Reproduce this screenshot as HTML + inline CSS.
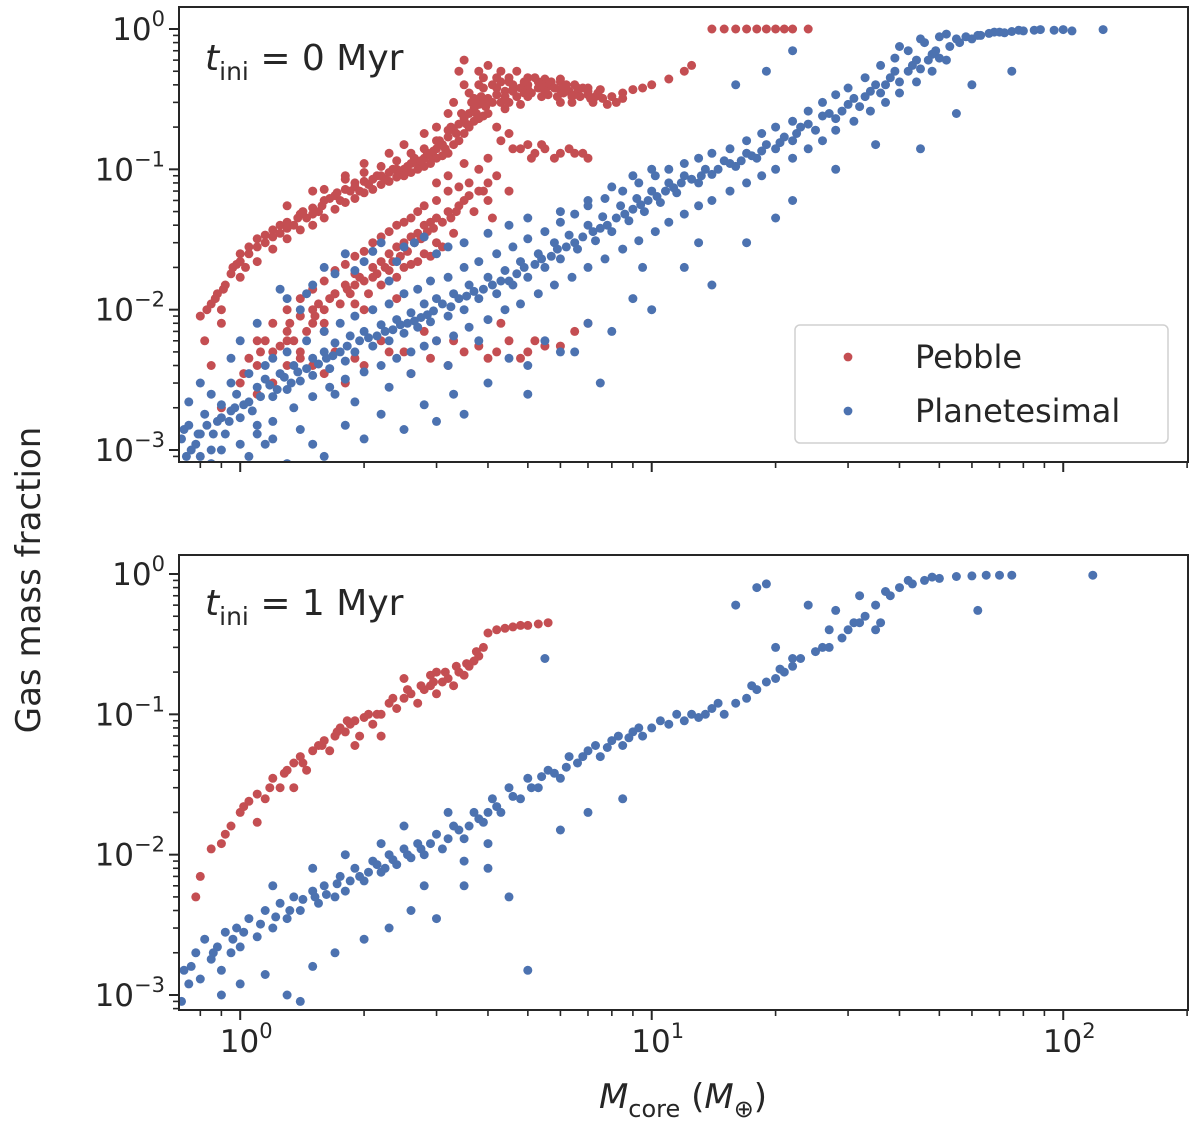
<!DOCTYPE html>
<html><head><meta charset="utf-8"><style>
html,body{margin:0;padding:0;background:#fff;}
svg text{font-family:"DejaVu Sans","Liberation Sans",sans-serif;fill:#262626;}
</style></head><body>
<svg id="fig" width="1200" height="1130" viewBox="0 0 1200 1130" xmlns="http://www.w3.org/2000/svg"></svg>
<script>
// ---- data (x = core mass in Earth masses, y = gas mass fraction) ----
const topBlueX=[0.72,0.74,0.75,0.78,0.8,0.82,0.85,0.88,0.9,0.92,0.95,0.98,1.0,1.05,1.1,1.1,1.15,1.2,1.25,1.3,1.35,1.4,1.5,1.5,1.6,1.65,1.7,1.8,1.85,1.9,2.0,2.1,2.2,2.3,2.4,2.5,2.6,2.7,2.8,2.9,3.0,3.2,3.3,3.5,3.6,3.8,4.0,4.2,4.4,4.6,4.8,5.0,5.3,5.5,5.8,6.0,6.3,6.6,7.0,7.3,7.6,8.0,8.4,8.8,9.2,9.6,10,10.5,11,11.5,12,13,13.5,14,15,16,17,18,19,20,21,22,23,25,26,28,30,32,34,36,38,40,43,45,48,50,53,56,60,63,66,70,75,80,85,95,105,125,52,45,40,
1.3,1.5,1.7,1.8,2.0,2.2,2.5,2.8,3.0,1.1,1.4,2.3,3.5,4.0,4.5,5,6,7,8,9,10,
0.85,1.05,1.2,1.3,1.5,1.6,1.8,2.0,2.2,2.5,2.8,3.0,3.3,3.5,4.0,4.5,5,5.5,6,7,8,9,10,12,14,17,20,22,28,35,45,55,60,75,13,6.5,7.5,9.5,1.2,1.7,2.3,3.8,5,19,22,16];
const topBlueY=[0.0012,0.0009,0.0015,0.0011,0.0013,0.0018,0.0010,0.0016,0.0021,0.0013,0.0019,0.0025,0.0017,0.0022,0.0028,0.0015,0.0032,0.0024,0.0035,0.0027,0.004,0.0031,0.0045,0.0034,0.005,0.0038,0.0058,0.0043,0.0065,0.005,0.007,0.0055,0.0078,0.006,0.0085,0.0068,0.0095,0.0075,0.011,0.0082,0.012,0.009,0.013,0.010,0.015,0.012,0.017,0.013,0.019,0.015,0.022,0.017,0.025,0.02,0.03,0.023,0.034,0.027,0.04,0.031,0.046,0.036,0.055,0.043,0.062,0.05,0.07,0.058,0.08,0.068,0.09,0.08,0.1,0.092,0.115,0.105,0.13,0.12,0.15,0.14,0.17,0.16,0.2,0.19,0.24,0.23,0.29,0.28,0.36,0.35,0.45,0.42,0.55,0.52,0.66,0.62,0.75,0.8,0.85,0.9,0.93,0.95,0.96,0.97,0.98,0.98,0.97,0.99,0.92,0.85,0.75,
0.012,0.015,0.018,0.025,0.022,0.03,0.028,0.033,0.025,0.008,0.01,0.016,0.03,0.035,0.04,0.045,0.05,0.06,0.075,0.09,0.1,
0.0008,0.0009,0.0012,0.0008,0.0011,0.0009,0.0015,0.0012,0.0018,0.0014,0.0021,0.0016,0.0025,0.0018,0.003,0.0045,0.004,0.006,0.005,0.008,0.007,0.012,0.01,0.02,0.015,0.03,0.045,0.06,0.1,0.15,0.14,0.25,0.4,0.5,0.03,0.005,0.003,0.02,0.0045,0.0025,0.0028,0.006,0.0025,0.5,0.7,0.4];
const topBlueMore=[[0.73,0.0014],[0.76,0.001],[0.79,0.0013],[0.83,0.0015],[0.86,0.0013],[0.9,0.0017],[0.94,0.0016],[0.97,0.002],[1.02,0.0021],[1.07,0.0019],[1.12,0.0024],[1.18,0.0029],[1.23,0.0027],[1.28,0.0033],[1.33,0.003],[1.38,0.0036],[1.45,0.0038],[1.55,0.0041],[1.62,0.0045],[1.68,0.0047],[1.75,0.005],[1.82,0.0055],[1.95,0.006],[2.05,0.0063],[2.15,0.0065],[2.25,0.007],[2.35,0.0072],[2.45,0.0078],[2.55,0.008],[2.65,0.0083],[2.75,0.0088],[2.85,0.0092],[2.95,0.0098],[3.1,0.011],[3.25,0.0105],[3.4,0.012],[3.55,0.0125],[3.7,0.0135],[3.9,0.014],[4.1,0.015],[4.3,0.016],[4.5,0.016],[4.7,0.018],[4.9,0.02],[5.2,0.021],[5.4,0.023],[5.7,0.024],[5.9,0.027],[6.2,0.028],[6.5,0.03],[6.8,0.033],[7.2,0.036],[7.5,0.038],[7.8,0.04],[8.2,0.045],[8.6,0.048],[9.0,0.052],[9.4,0.056],[9.8,0.06],[10.3,0.064],[10.8,0.07],[11.3,0.074],[11.8,0.08],[12.5,0.085],[13.2,0.09],[14.5,0.1],[15.5,0.11],[16.5,0.115],[17.5,0.125],[18.5,0.135],[20.5,0.155],[22.5,0.18],[24,0.21],[27,0.25],[29,0.26],[31,0.32],[33,0.33],[35,0.4],[37,0.4],[39,0.5],[42,0.5],[44,0.6],[47,0.6],[49,0.7],[55,0.85],[58,0.88],[62,0.9],[68,0.95],[72,0.94],[78,0.98],[88,0.99],[100,0.99],
[1.25,0.014],[1.45,0.013],[1.6,0.02],[1.9,0.019],[2.1,0.026],[2.4,0.022],[2.65,0.03],[3.2,0.028],[1.0,0.006],[0.8,0.003],[0.95,0.0045],[1.15,0.0011],[1.4,0.0014],[1.9,0.0022],[2.6,0.0035],[3.2,0.004]];
const topBlueEdges=[[0.75,0.0022],[0.85,0.0025],[0.95,0.003],[1.05,0.0035],[1.15,0.004],[1.3,0.005],[1.45,0.006],[1.6,0.007],[1.75,0.008],[1.9,0.009],[2.1,0.01],[2.3,0.011],[2.5,0.013],[2.7,0.014],[2.9,0.016],[3.2,0.017],[3.5,0.02],[3.8,0.022],[4.2,0.025],[4.6,0.028],[5.0,0.032],[5.5,0.036],[6.0,0.042],[6.5,0.048],[7.0,0.055],[7.7,0.062],[8.5,0.07],[9.3,0.08],[10.2,0.09],[11,0.1],[12,0.11],[13,0.12],[14,0.13],[15.5,0.14],[17,0.16],[18.5,0.18],[20,0.2],[22,0.22],[24,0.26],[26,0.3],[28,0.34],[30,0.38],[33,0.45],[36,0.55],[39,0.62],[42,0.7],[46,0.8],[50,0.88],
[0.8,0.0009],[0.9,0.001],[1.0,0.0011],[1.1,0.0013],[1.2,0.0016],[1.35,0.002],[1.5,0.0024],[1.65,0.0028],[1.8,0.0032],[2.0,0.0036],[2.2,0.004],[2.4,0.0045],[2.6,0.005],[2.8,0.0055],[3.0,0.006],[3.3,0.0065],[3.6,0.0075],[4.0,0.0085],[4.4,0.01],[4.8,0.011],[5.3,0.013],[5.8,0.015],[6.4,0.017],[7.0,0.02],[7.7,0.023],[8.5,0.027],[9.3,0.031],[10.2,0.036],[11,0.042],[12,0.048],[13,0.055],[14,0.06],[15.5,0.07],[17,0.08],[18.5,0.09],[20,0.1],[22,0.12],[24,0.14],[26,0.16],[28,0.19],[31,0.22],[34,0.26],[37,0.3],[40,0.35],[44,0.42],[48,0.5],[52,0.6]];
const topRedX=[0.8,0.82,0.85,0.88,0.9,0.92,0.95,0.98,1.0,1.03,1.05,1.1,1.15,1.2,1.25,1.3,1.35,1.4,1.45,1.5,1.55,1.6,1.7,1.75,1.8,1.9,1.95,2.0,2.1,2.2,2.3,2.4,2.5,2.6,2.7,2.8,2.9,3.0,3.1,3.2,3.3,3.4,3.5,3.6,3.7,3.8,3.9,4.0,4.2,4.4,4.6,4.8,5.0,5.3,5.6,6.0,6.3,6.6,7.0,7.3,7.6,8.0,8.5,9.0,10,11,12,12.5,14,15,16,17,18,19,20,21,22,24,
3.5,3.8,4.0,4.2,4.5,5,5.5,6,6.5,7,4.5,5,6,3.4,3.5,3.3,3.0,2.8,2.5,2.3,2.0,1.8,1.5,1.3,
4.2,4.5,5,5.5,6,6.5,7,4.8,5.2,3.5,3.8,4.2,3.2,3.0,4.0,3.7,4.5,
1.0,1.05,1.1,1.15,1.2,1.3,1.35,1.4,1.5,1.55,1.6,1.7,1.8,1.85,1.9,2.0,2.1,2.2,2.3,2.4,2.5,2.6,2.7,2.8,2.9,3.0,3.2,3.4,2.2,2.5,2.8,3.0,3.3,
1.5,1.7,2.0,2.3,2.6,3.0,3.5,4.0,4.5,5,5.5,6.5,7,3.2,2.8,1.2,1.8,4.3,0.85,0.9];
const topRedY=[0.009,0.006,0.011,0.013,0.008,0.015,0.018,0.021,0.025,0.02,0.028,0.032,0.03,0.037,0.035,0.042,0.04,0.048,0.045,0.053,0.05,0.06,0.065,0.06,0.072,0.075,0.07,0.082,0.085,0.09,0.095,0.1,0.1,0.11,0.11,0.12,0.125,0.14,0.15,0.17,0.19,0.21,0.23,0.25,0.27,0.29,0.3,0.32,0.34,0.36,0.37,0.38,0.4,0.38,0.39,0.37,0.36,0.35,0.34,0.33,0.32,0.33,0.35,0.37,0.4,0.44,0.5,0.55,1,1,1,1,1,1,1,1,1,1,
0.4,0.5,0.55,0.45,0.42,0.45,0.44,0.42,0.4,0.38,0.3,0.33,0.3,0.5,0.6,0.3,0.2,0.18,0.15,0.13,0.11,0.09,0.07,0.055,
0.2,0.18,0.15,0.14,0.13,0.13,0.12,0.14,0.13,0.11,0.1,0.09,0.09,0.08,0.06,0.05,0.07,
0.003,0.0045,0.004,0.006,0.005,0.007,0.006,0.009,0.008,0.011,0.01,0.013,0.015,0.013,0.018,0.016,0.02,0.022,0.025,0.028,0.03,0.033,0.035,0.04,0.042,0.045,0.05,0.055,0.015,0.02,0.025,0.03,0.035,
0.004,0.005,0.004,0.005,0.0035,0.006,0.005,0.0045,0.006,0.005,0.0055,0.007,0.008,0.004,0.007,0.003,0.003,0.008,0.004,0.002];
const topRedMore=[[0.83,0.01],[0.87,0.012],[0.91,0.014],[0.96,0.02],[1.0,0.022],[1.05,0.025],[1.1,0.028],[1.15,0.034],[1.2,0.033],[1.25,0.04],[1.3,0.038],[1.38,0.045],[1.42,0.05],[1.5,0.048],[1.58,0.055],[1.65,0.062],[1.72,0.068],[1.85,0.07],[1.9,0.08],[2.05,0.078],[2.15,0.09],[2.25,0.085],[2.35,0.1],[2.45,0.095],[2.55,0.105],[2.65,0.12],[2.75,0.115],[2.85,0.13],[2.95,0.135],[3.05,0.16],[3.15,0.14],[3.25,0.2],[3.35,0.18],[3.45,0.25],[3.55,0.21],[3.65,0.3],[3.75,0.25],[3.85,0.33],[3.95,0.28],
[4.1,0.4],[4.3,0.3],[4.5,0.45],[4.7,0.33],[4.9,0.42],[5.1,0.35],[5.2,0.45],[5.4,0.33],[5.7,0.42],[5.9,0.33],[6.2,0.4],[6.4,0.3],[6.8,0.38],[7.2,0.3],[7.5,0.37],[7.8,0.29],[8.2,0.3],[3.9,0.45],[4.3,0.5],[4.7,0.5],[5.5,0.36],[6.1,0.35],[6.7,0.33],[7.4,0.35],[4.0,0.25],[4.4,0.27],[4.8,0.29],[3.6,0.35],[3.2,0.25],
[4.3,0.16],[4.6,0.14],[5.1,0.12],[5.8,0.12],[6.3,0.14],[6.8,0.13],[5.4,0.15],[4.0,0.12],[3.6,0.08],[3.9,0.07],[4.1,0.045],
[1.02,0.0035],[1.12,0.005],[1.25,0.0055],[1.32,0.008],[1.45,0.007],[1.52,0.009],[1.65,0.012],[1.75,0.011],[1.82,0.014],[1.95,0.017],[2.05,0.013],[2.15,0.018],[2.25,0.02],[2.35,0.022],[2.45,0.024],[2.55,0.026],[2.65,0.03],[2.75,0.032],[2.85,0.036],[2.95,0.038],[3.1,0.042],[3.25,0.045],[3.35,0.05],[3.5,0.06],[3.6,0.065],[3.8,0.07],[4.0,0.08],[1.6,0.007],[1.9,0.011],[2.4,0.017],[2.7,0.022],[3.1,0.028],[1.4,0.005],[1.3,0.004],
[1.6,0.0035],[1.9,0.0045],[2.2,0.006],[2.5,0.005],[2.9,0.0045],[3.3,0.006],[3.8,0.0055],[4.2,0.005],[4.8,0.0045],[5.2,0.006],[6,0.0055],[1.4,0.0045],[1.1,0.0025]];
const topRedDense=[[0.9,0.01],[1.0,0.017],[1.1,0.022],[1.2,0.027],[1.3,0.032],[1.4,0.037],[1.5,0.04],[1.6,0.045],[1.7,0.052],[1.8,0.058],[1.9,0.062],[2.0,0.068],[2.1,0.072],[2.2,0.078],[2.3,0.082],[2.4,0.088],[2.5,0.09],[2.6,0.095],[2.7,0.1],[2.8,0.105],[2.9,0.11],[3.0,0.12],[3.1,0.125],[3.2,0.13],[3.3,0.15],[3.4,0.16],[3.5,0.18],[3.6,0.2],[3.7,0.22],[3.8,0.23],[3.9,0.24],[1.6,0.072],[1.8,0.085],[2.0,0.095],[2.2,0.105],[2.4,0.115],[2.6,0.13],[2.8,0.14],[3.0,0.16],[3.2,0.19],
[4.2,0.38],[4.6,0.4],[5.0,0.37],[5.4,0.4],[5.8,0.38],[6.2,0.36],[6.6,0.38],[7.0,0.36],[4.4,0.33],[4.9,0.35],[5.6,0.34],[6.4,0.33],[7.1,0.32],[4.1,0.3],[4.6,0.36],[5.3,0.42],[6.0,0.44],[8.5,0.32],[9.5,0.38],[3.9,0.38],[4.3,0.42],[3.7,0.32],[3.8,0.4],
[1.1,0.006],[1.2,0.008],[1.3,0.01],[1.4,0.012],[1.5,0.014],[1.6,0.016],[1.7,0.019],[1.8,0.021],[1.9,0.024],[2.0,0.026],[2.1,0.03],[2.2,0.033],[2.3,0.036],[2.4,0.04],[2.5,0.042],[2.6,0.045],[2.7,0.05],[2.8,0.055],[3.0,0.06],[3.2,0.07],[3.4,0.075],[1.5,0.01],[1.7,0.013],[1.9,0.015],[2.1,0.017],[2.3,0.019],[2.6,0.021],[2.9,0.024],[1.3,0.006],[1.6,0.008],[2.0,0.01],[2.4,0.012]];
const botRedX=[0.78,0.8,0.85,0.9,0.95,1.0,1.05,1.1,1.15,1.2,1.25,1.3,1.35,1.4,1.45,1.5,1.55,1.6,1.65,1.7,1.75,1.8,1.85,1.9,1.95,2.0,2.05,2.1,2.2,2.3,2.4,2.5,2.6,2.7,2.8,2.9,3.0,3.1,3.2,3.3,3.4,3.5,3.6,3.7,3.8,3.9,4.0,4.2,4.4,4.6,4.8,5.0,5.3,5.6,2.5,2.9,1.9,2.2,3.0,1.35,1.1];
const botRedY=[0.005,0.007,0.011,0.012,0.016,0.02,0.024,0.027,0.025,0.035,0.03,0.04,0.045,0.05,0.04,0.055,0.06,0.065,0.055,0.07,0.08,0.075,0.085,0.09,0.07,0.095,0.1,0.085,0.1,0.12,0.11,0.13,0.14,0.12,0.15,0.16,0.14,0.17,0.18,0.16,0.2,0.19,0.22,0.24,0.26,0.3,0.38,0.4,0.41,0.42,0.43,0.43,0.44,0.45,0.18,0.19,0.06,0.07,0.2,0.03,0.017];
const botRedMore=[[0.92,0.014],[1.02,0.022],[1.18,0.03],[1.28,0.038],[1.42,0.045],[1.58,0.06],[1.72,0.075],[1.82,0.09],[2.15,0.1],[2.35,0.13],[2.55,0.15],[2.75,0.16],[2.95,0.17],[3.15,0.2],[3.35,0.22],[3.55,0.23],[3.75,0.28]];
const botBlueX=[0.72,0.73,0.75,0.78,0.8,0.82,0.85,0.88,0.9,0.92,0.95,0.98,1.0,1.05,1.1,1.15,1.2,1.25,1.3,1.35,1.4,1.5,1.55,1.6,1.7,1.75,1.8,1.9,2.0,2.1,2.2,2.3,2.4,2.5,2.6,2.7,2.8,3.0,3.1,3.3,3.5,3.7,3.9,4.1,4.3,4.5,4.8,5.0,5.3,5.6,6.0,6.3,6.6,7.0,7.5,8.0,8.5,9.0,9.5,10,11,12,13,14,15,16,17,18,19,20,21,22,23,25,27,29,31,33,35,38,40,43,46,50,55,60,65,70,75,118,18,19,16,24,28,35,36,62,5.5,8.5,
1.3,1.4,1.5,1.7,2.0,2.3,2.6,3.0,3.5,4.0,4.5,5,0.9,1.0,1.15,1.8,2.2,2.5,3.2,1.5,1.2,6,7,4,3.5,2.8];
const botBlueY=[0.0009,0.0015,0.0012,0.002,0.0013,0.0025,0.0018,0.0022,0.0015,0.0028,0.002,0.003,0.0022,0.0035,0.0026,0.004,0.003,0.0045,0.0035,0.005,0.004,0.0055,0.0045,0.006,0.005,0.007,0.0055,0.008,0.0065,0.009,0.0075,0.01,0.0085,0.011,0.0095,0.012,0.01,0.014,0.011,0.016,0.013,0.02,0.017,0.025,0.02,0.03,0.025,0.035,0.03,0.04,0.035,0.05,0.045,0.055,0.05,0.065,0.06,0.075,0.07,0.08,0.085,0.09,0.095,0.11,0.1,0.12,0.13,0.15,0.17,0.18,0.2,0.22,0.25,0.28,0.3,0.35,0.45,0.5,0.6,0.7,0.8,0.85,0.9,0.93,0.96,0.97,0.98,0.98,0.98,0.98,0.8,0.85,0.6,0.6,0.55,0.4,0.45,0.55,0.25,0.025,
0.001,0.0009,0.0016,0.002,0.0025,0.003,0.004,0.0035,0.006,0.008,0.005,0.0015,0.001,0.0012,0.0014,0.01,0.012,0.016,0.02,0.008,0.006,0.015,0.02,0.012,0.009,0.006];
const botBlueMore=[[0.76,0.0016],[0.86,0.002],[0.96,0.0025],[1.02,0.0028],[1.12,0.0032],[1.22,0.0036],[1.32,0.004],[1.42,0.0048],[1.52,0.005],[1.62,0.0052],[1.72,0.0062],[1.85,0.0065],[1.95,0.007],[2.05,0.0075],[2.15,0.0085],[2.25,0.008],[2.35,0.0092],[2.55,0.01],[2.75,0.011],[2.9,0.012],[3.2,0.013],[3.4,0.015],[3.6,0.016],[3.8,0.018],[4.0,0.02],[4.2,0.022],[4.6,0.026],[5.1,0.03],[5.4,0.036],[5.8,0.038],[6.2,0.042],[6.8,0.05],[7.3,0.06],[7.8,0.058],[8.3,0.07],[8.8,0.068],[9.3,0.08],[10.5,0.09],[11.5,0.1],[12.5,0.1],[13.5,0.1],[14.5,0.12],[17.5,0.16],[20.5,0.21],[22,0.25],[26,0.3],[30,0.4],[32,0.45],[37,0.75],[42,0.9],[48,0.95],[20,0.3],[27,0.4],[32,0.7]];
const yTickExps=[0,-1,-2,-3];
const xTickExps=[0,1,2];

// ---- geometry ----
const NS="http://www.w3.org/2000/svg";
const svg=document.getElementById('fig');
const X0=179,X1=1188,xLo=Math.log10(0.71),xHi=Math.log10(201);
function xs(v){return X0+(Math.log10(v)-xLo)/(xHi-xLo)*(X1-X0);}
function mk(tag,attrs,parent){const e=document.createElementNS(NS,tag);for(const k in attrs)e.setAttribute(k,attrs[k]);(parent||svg).appendChild(e);return e;}
function merge(xa,ya,...lists){let x=xa.slice(),y=ya.slice();for(const l of lists){x=x.concat(l.map(p=>p[0]));y=y.concat(l.map(p=>p[1]));}return {x,y};}
const RED="#c44e52",BLUE="#4c72b0",AX="#262626";

function panel(name,top,bottom,y0px,y3px,series,label){
  const g=mk('g',{});
  
  
  const per=(y3px-y0px)/3;
  const ys=v=>y0px-Math.log10(v)*per;
  const defs=mk('clipPath',{id:'clip-'+name},g);
  mk('rect',{x:X0,y:top,width:X1-X0,height:bottom-top},defs);
  const pts=mk('g',{'clip-path':'url(#clip-'+name+')'},g);
  for(const s of series){
    const sg=mk('g',{},pts);
    
    
    for(let i=0;i<s.x.length;i++){
      const c=mk('circle',{cx:xs(s.x[i]).toFixed(1),cy:ys(s.y[i]).toFixed(1),r:4.5,fill:s.color},sg);
      
      
    }
  }
  const fr=mk('rect',{x:X0,y:top,width:X1-X0,height:bottom-top,fill:'none',stroke:AX,'stroke-width':2},g);
  
  
  for(const e of yTickExps){
    const yy=ys(Math.pow(10,e));
    mk('line',{x1:X0-10,x2:X0,y1:yy,y2:yy,stroke:AX,'stroke-width':2},g);
    const t=mk('text',{x:X0-14,y:yy+11,'font-size':31,'text-anchor':'end'},g);
    
    
    t.innerHTML=(e<0?'10<tspan dy="-14" font-size="21">\u2212'+(-e)+'</tspan>':'10<tspan dy="-14" font-size="21">'+e+'</tspan>');
    for(let m=2;m<=9;m++){
      const py=ys(Math.pow(10,e-1)*m);
      if(py<=bottom&&py>=top) mk('line',{x1:X0-6,x2:X0,y1:py,y2:py,stroke:AX,'stroke-width':1.6},g);
    }
    if(e===0){for(let m=2;m<=9;m++){const py=ys(m);if(py>=top)mk('line',{x1:X0-6,x2:X0,y1:py,y2:py,stroke:AX,'stroke-width':1.6},g);}}
  }
  for(let e=-1;e<=2;e++){
    for(let m=1;m<=9;m++){
      const px=xs(m*Math.pow(10,e));
      if(px<X0-0.5||px>X1+0.5)continue;
      const major=(m===1);
      mk('line',{x1:px,x2:px,y1:bottom,y2:bottom+(major?10:6),stroke:AX,'stroke-width':major?2:1.6},g);
    }
  }
  const lab=mk('text',{x:205,y:top+(name==='top-panel'?63:60),'font-size':36},g);
  
  
  lab.innerHTML='<tspan font-style="italic">t</tspan><tspan font-size="25" dy="10">ini</tspan><tspan dy="-10"> = '+label+' Myr</tspan>';
  return {g,ys};
}
const tr=merge(topRedX,topRedY,topRedMore,topRedDense), tb=merge(topBlueX,topBlueY,topBlueMore,topBlueEdges);
const br=merge(botRedX,botRedY,botRedMore), bb=merge(botBlueX,botBlueY,botBlueMore);
panel('top-panel',7,462,29,450,[{name:'pebble-series-top',x:tr.x,y:tr.y,color:RED},{name:'planetesimal-series-top',x:tb.x,y:tb.y,color:BLUE}],'0');
panel('bottom-panel',555,1010,574,995,[{name:'pebble-series-bottom',x:br.x,y:br.y,color:RED},{name:'planetesimal-series-bottom',x:bb.x,y:bb.y,color:BLUE}],'1');
for(const e of xTickExps){
  const t=mk('text',{x:xs(Math.pow(10,e))+6,y:1052,'font-size':31,'text-anchor':'middle'});
  
  
  t.innerHTML='10<tspan dy="-14" font-size="21">'+e+'</tspan>';
}
const lg=mk('g',{});


mk('rect',{x:795,y:325,width:373,height:118,rx:5,fill:'#fff','fill-opacity':0.85,stroke:'#d0d0d0','stroke-width':1.5},lg);
mk('circle',{cx:848,cy:357,r:4.4,fill:RED},lg);
mk('circle',{cx:848,cy:411,r:4.4,fill:BLUE},lg);
const l1=mk('text',{x:915,y:368,'font-size':32},lg);l1.textContent='Pebble';


const l2=mk('text',{x:915,y:422,'font-size':32},lg);l2.textContent='Planetesimal';


const xt=mk('text',{x:683,y:1108,'font-size':34,'text-anchor':'middle'});


xt.innerHTML='<tspan font-style="italic">M</tspan><tspan font-size="24" dy="9">core</tspan><tspan dy="-9"> (</tspan><tspan font-style="italic">M</tspan><tspan font-size="24" dy="9">\u2295</tspan><tspan dy="-9">)</tspan>';
const yt=mk('text',{x:0,y:0,'font-size':34,'text-anchor':'middle',transform:'translate(40,580) rotate(-90)'});


yt.textContent='Gas mass fraction';
</script>
</body></html>
